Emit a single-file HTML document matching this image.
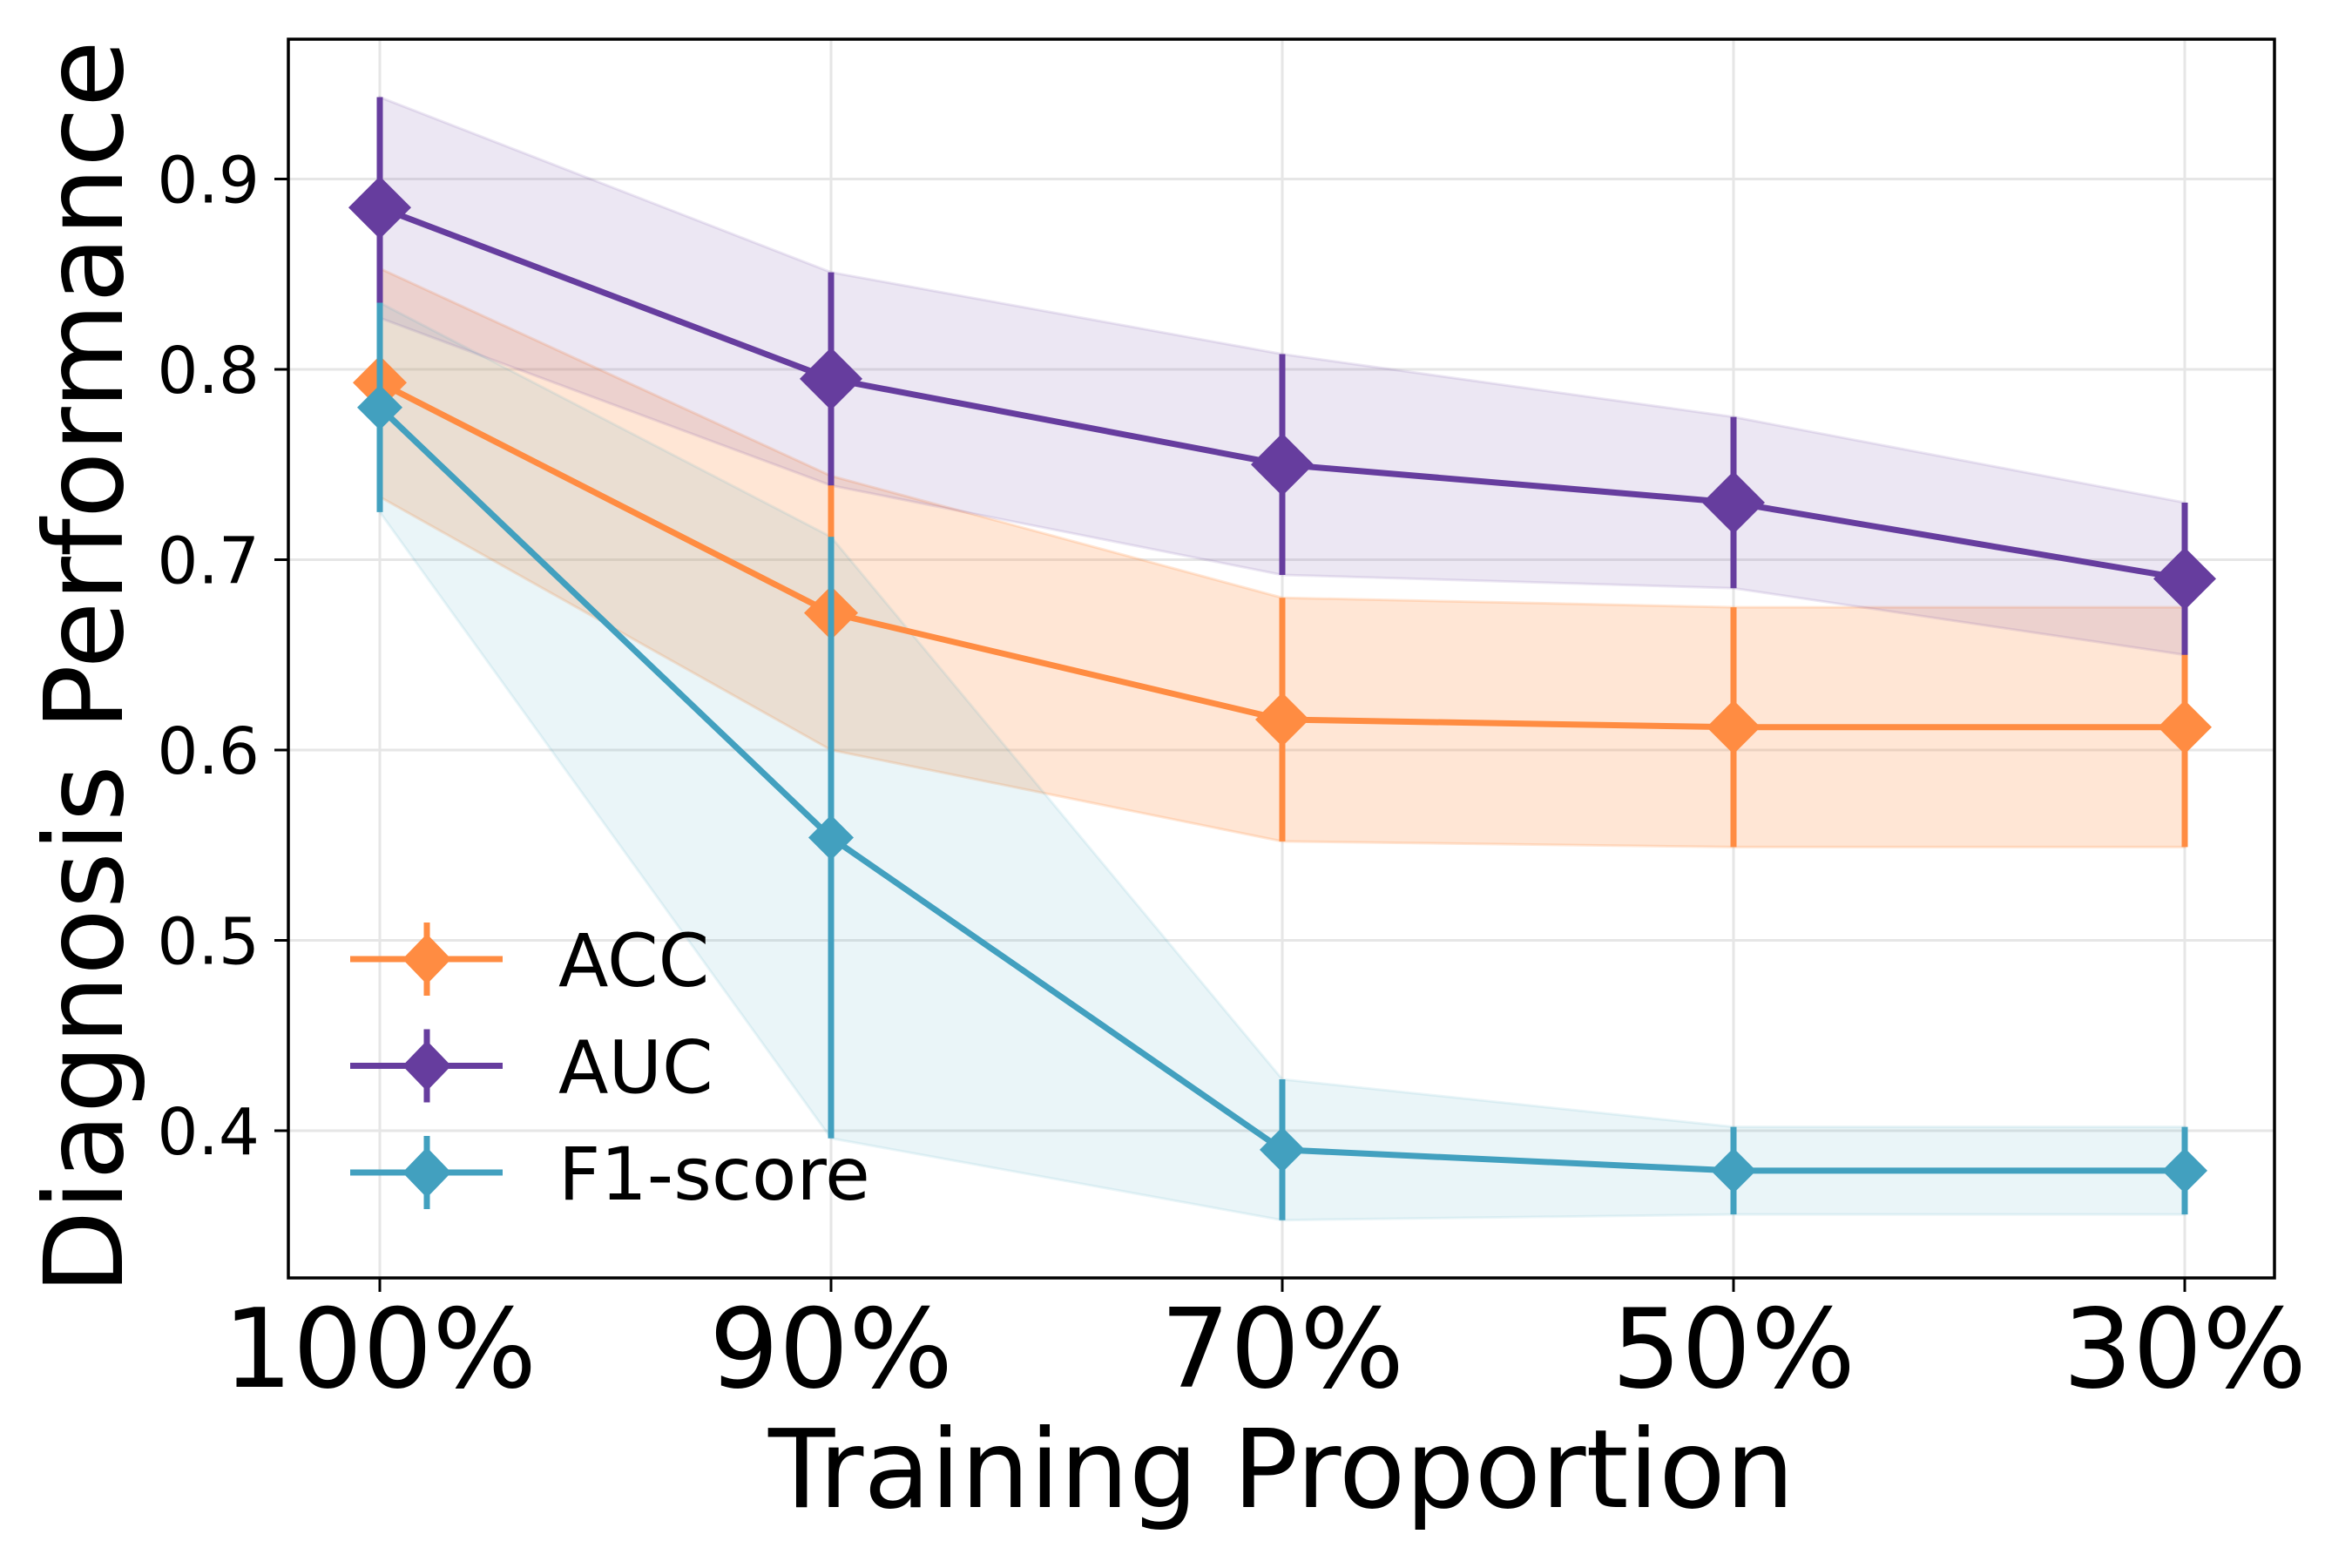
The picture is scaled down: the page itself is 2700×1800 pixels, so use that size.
<!DOCTYPE html>
<html><head><meta charset="utf-8">
<style>
html,body{margin:0;padding:0;background:#fff;}
svg{display:block;font-family:"DejaVu Sans","Liberation Sans",sans-serif;}
</style></head>
<body>
<svg id="chart" width="2700" height="1800" viewBox="0 0 2700 1800" xmlns="http://www.w3.org/2000/svg">
<rect width="2700" height="1800" fill="#fff"/>
<g id="grid"></g>
<g id="bands"></g>
<g id="series"></g>
<g id="axes"></g>
<text transform="translate(140,766) rotate(-90)" text-anchor="middle" font-size="125">Diagnosis Performance</text>
<text x="1471" y="1730" text-anchor="middle" font-size="125">Training Proportion</text>
<g id="legend"></g>
</svg>
<script>
const categories = ["100%", "90%", "70%", "50%", "30%"];
const accValues = [0.793, 0.672, 0.616, 0.612, 0.612];
const accErr = [0.060, 0.072, 0.064, 0.063, 0.063];
const aucValues = [0.885, 0.795, 0.750, 0.730, 0.690];
const aucErr = [0.058, 0.056, 0.058, 0.045, 0.040];
const f1Values = [0.780, 0.554, 0.390, 0.379, 0.379];
const f1Err = [0.055, 0.158, 0.037, 0.023, 0.023];
const yTicks = [0.4, 0.5, 0.6, 0.7, 0.8, 0.9];
const yTickLabels = ["0.4", "0.5", "0.6", "0.7", "0.8", "0.9"];

const NS = "http://www.w3.org/2000/svg";
const L = 331, R = 2611, T = 45, B = 1467;
function xPos(i){ return 436 + i * 518; }
function yPos(v){ return 205.5 + (0.9 - v) * 2185; }
function mk(tag, attrs, parent){
  const e = document.createElementNS(NS, tag);
  for (const k in attrs) e.setAttribute(k, attrs[k]);
  parent.appendChild(e);
  return e;
}
const grid = document.getElementById('grid');
const axes = document.getElementById('axes');
const bands = document.getElementById('bands');
const seriesG = document.getElementById('series');
const legend = document.getElementById('legend');

categories.forEach((c, i) => {
  const g = mk('line', {x1:xPos(i), x2:xPos(i), y1:T, y2:B, stroke:'#e6e6e6', 'stroke-width':3}, grid);
  
  
  const t = mk('line', {x1:xPos(i), x2:xPos(i), y1:B, y2:B+16, stroke:'#000', 'stroke-width':3}, axes);
  
  
  const lb = mk('text', {x:xPos(i), y:1592, 'text-anchor':'middle', 'font-size':126}, axes);
  lb.textContent = c;
  
  
});
yTicks.forEach((v, i) => {
  const g = mk('line', {x1:L, x2:R, y1:yPos(v), y2:yPos(v), stroke:'#e6e6e6', 'stroke-width':3}, grid);
  
  
  const t = mk('line', {x1:L-16, x2:L, y1:yPos(v), y2:yPos(v), stroke:'#000', 'stroke-width':3}, axes);
  
  
  const lb = mk('text', {x:298, y:yPos(v)+27, 'text-anchor':'end', 'font-size':74}, axes);
  lb.textContent = yTickLabels[i];
  
  
});
const frame = mk('rect', {x:L, y:T, width:R-L, height:B-T, fill:'none', stroke:'#000', 'stroke-width':3.5}, axes);



const series = [
  {name:'acc', label:'ACC', vals:accValues, err:accErr, color:'#FF8C42', op:0.22, half:31},
  {name:'auc', label:'AUC', vals:aucValues, err:aucErr, color:'#663D9E', op:0.12, half:36},
  {name:'f1', label:'F1-score', vals:f1Values, err:f1Err, color:'#42A0BF', op:0.11, half:26}
];
series.forEach(s => {
  let up = s.vals.map((v,i)=>xPos(i)+','+yPos(v+s.err[i]));
  let dn = s.vals.map((v,i)=>xPos(i)+','+yPos(v-s.err[i])).reverse();
  const p = mk('polygon', {points:up.concat(dn).join(' '), fill:s.color, 'fill-opacity':s.op, stroke:s.color, 'stroke-opacity':s.op, 'stroke-width':3}, bands);
  
  
});
series.forEach(s => {
  const g = mk('g', {}, seriesG);
  
  
  const pl = mk('polyline', {points:s.vals.map((v,i)=>xPos(i)+','+yPos(v)).join(' '), fill:'none', stroke:s.color, 'stroke-width':7, 'stroke-linejoin':'round'}, g);
  
  
  s.vals.forEach((v,i) => {
    const e = mk('line', {x1:xPos(i), x2:xPos(i), y1:yPos(v+s.err[i]), y2:yPos(v-s.err[i]), stroke:s.color, 'stroke-width':7}, g);
    
    
    const x = xPos(i), y = yPos(v), h = s.half;
    const m = mk('polygon', {points:`${x},${y-h} ${x+h},${y} ${x},${y+h} ${x-h},${y}`, fill:s.color}, g);
    
    
  });
});
series.forEach((s, k) => {
  const y = 1101 + k * 122.5;
  const g = mk('g', {}, legend);
  
  
  mk('line', {x1:402, x2:577, y1:y, y2:y, stroke:s.color, 'stroke-width':7}, g);
  mk('line', {x1:490, x2:490, y1:y-42, y2:y+42, stroke:s.color, 'stroke-width':7}, g);
  mk('polygon', {points:`490,${y-29} 518,${y} 490,${y+29} 462,${y}`, fill:s.color}, g);
  const t = mk('text', {x:641, y:y+31, 'font-size':84}, g);
  t.textContent = s.label;
});
</script>
</body></html>
